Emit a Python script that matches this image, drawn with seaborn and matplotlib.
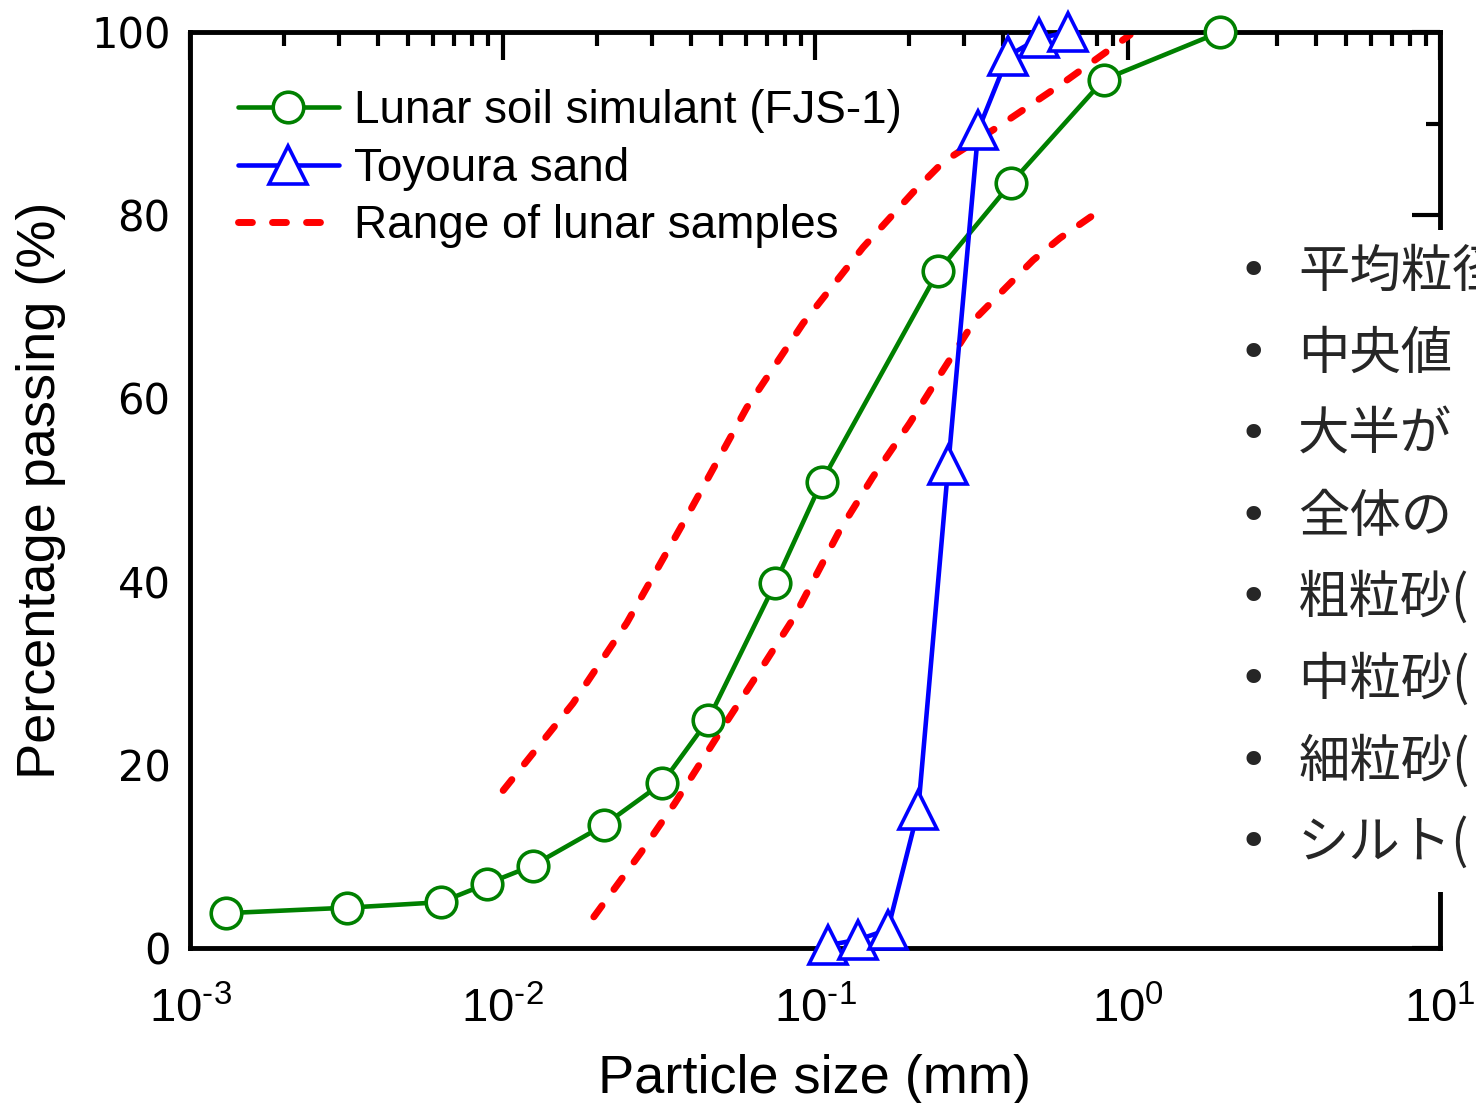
import numpy as np
import pandas as pd
import matplotlib
matplotlib.use('Agg')
import matplotlib.pyplot as plt
import seaborn as sns
from matplotlib.ticker import LogLocator, FixedLocator, FuncFormatter, NullFormatter

# 粒徑分布數據 (mm, %)
fjs_size = [0.0013, 0.00318, 0.00635, 0.0089, 0.0125, 0.0211, 0.0324, 0.0455,
            0.0745, 0.105, 0.248, 0.424, 0.84, 1.98]
fjs_pass = [3.8, 4.4, 5.0, 7.0, 9.0, 13.4, 18.0, 24.9, 39.8, 50.9, 73.9, 83.5, 94.8, 100.0]

toyoura_size = [0.110, 0.137, 0.171, 0.214, 0.267, 0.333, 0.415, 0.52, 0.645]
toyoura_pass = [0.3, 0.9, 2.0, 15.1, 52.7, 89.3, 97.4, 99.3, 100.0]

upper_size = [0.01005, 0.0168, 0.0250, 0.0389, 0.0605, 0.0916, 0.1426, 0.206,
              0.257, 0.391, 0.608, 1.02]
upper_pass = [17.2, 26.7, 35.5, 47.1, 59.0, 68.2, 76.5, 82.5, 85.8, 89.8, 94.2, 99.7]

lower_size = [0.0196, 0.0277, 0.0356, 0.0519, 0.0667, 0.0857, 0.120, 0.153,
              0.201, 0.257, 0.330, 0.411, 0.499, 0.608, 0.776]
lower_pass = [3.4, 10.4, 15.8, 24.6, 30.3, 36.1, 45.6, 51.4, 57.3, 63.1, 68.9,
              72.2, 75.1, 77.5, 80.0]

notes = ['平均粒径', '中央値', '大半が', '全体の', '粗粒砂(', '中粒砂(', '細粒砂(', 'シルト(']

sns.set_style('white')
plt.rcParams['font.family'] = ['Liberation Sans', 'DejaVu Sans']
plt.rcParams['mathtext.default'] = 'regular'

fig = plt.figure(figsize=(14.76, 11.03), dpi=100)
ax = fig.add_axes([190 / 1476, 155 / 1103, 1250 / 1476, 916 / 1103])

# 範圍線 (紅色虛線)
for i, (xs, ys) in enumerate([(upper_size, upper_pass), (lower_size, lower_pass)]):
    sns.lineplot(x=xs, y=ys, ax=ax, color='#FF0000', lw=5,
                 label='Range of lunar samples' if i == 0 else None,
                 linestyle=(0, (2.0, 2.9)), dash_capstyle='round', zorder=2)

sns.lineplot(x=fjs_size, y=fjs_pass, ax=ax, color='#008000', lw=3.3,
             marker='o', markersize=22, markerfacecolor='white',
             markeredgecolor='#008000', markeredgewidth=2.6,
             label='Lunar soil simulant (FJS-1)', zorder=5, clip_on=False)
sns.lineplot(x=toyoura_size, y=toyoura_pass, ax=ax, color='#0000FF', lw=3.3,
             marker='^', markersize=27, markerfacecolor='white',
             markeredgecolor='#0000FF', markeredgewidth=2.6,
             label='Toyoura sand', zorder=6, clip_on=False)

ax.set_xscale('log')
ax.set_xlim(1e-3, 1e1)
ax.set_ylim(0, 100)

ax.xaxis.set_major_locator(LogLocator(base=10, numticks=10))
ax.xaxis.set_minor_locator(LogLocator(base=10, subs=np.arange(2, 10), numticks=20))
ax.xaxis.set_minor_formatter(NullFormatter())
ax.xaxis.set_major_formatter(FuncFormatter(
    lambda v, p: r'$10^{%s}$' % str(round(np.log10(v))).replace('-', '\u2010')))
ax.yaxis.set_major_locator(FixedLocator([0, 20, 40, 60, 80, 100]))
ax.yaxis.set_minor_locator(FixedLocator([10, 30, 50, 70, 90]))

ax.tick_params(which='both', direction='in', top=True, right=True, width=3, color='black')
ax.tick_params(which='major', length=20)
ax.tick_params(which='minor', length=10)
ax.tick_params(axis='x', which='major', labelsize=34, pad=28, labelcolor='black')
ax.tick_params(axis='y', which='major', labelsize=30, pad=14, labelcolor='black')
for lab in ax.get_yticklabels():
    lab.set_family('DejaVu Sans')

for s in ax.spines.values():
    s.set_linewidth(3.5)
    s.set_color('black')

ax.set_xlabel('Particle size (mm)', fontsize=39, labelpad=16, color='black')
ax.set_ylabel('Percentage passing (%)', fontsize=39, labelpad=18, color='black')

# 圖例順序
h, l = ax.get_legend_handles_labels()
order = [l.index('Lunar soil simulant (FJS-1)'), l.index('Toyoura sand'),
         l.index('Range of lunar samples')]
leg = ax.legend([h[i] for i in order], [l[i] for i in order], loc='upper left',
                bbox_to_anchor=(0.0384, 0.938), frameon=False, fontsize=33,
                handlelength=2.2, handletextpad=0.33, labelspacing=0.3,
                borderaxespad=0, borderpad=0)
for t in leg.get_texts():
    t.set_color('black')

# 右側說明文字框
fig.patches.append(plt.Rectangle((1235 / 1476, 1 - 892 / 1103), 241 / 1476, 662 / 1103,
                                 transform=fig.transFigure, facecolor='white',
                                 edgecolor='none', zorder=10))
for i, t in enumerate(notes):
    yy = 1 - (272 + i * 81.6) / 1103
    fig.text(1253 / 1476, yy, '•', fontsize=36, color='#262626', ha='center', va='center',
             family='DejaVu Sans', zorder=11)
    fig.text(1298 / 1476, yy, t, fontsize=37, color='#262626', ha='left', va='center',
             family=['Noto Sans CJK JP', 'DejaVu Sans'], zorder=11)

fig.savefig('out.png', dpi=100)
